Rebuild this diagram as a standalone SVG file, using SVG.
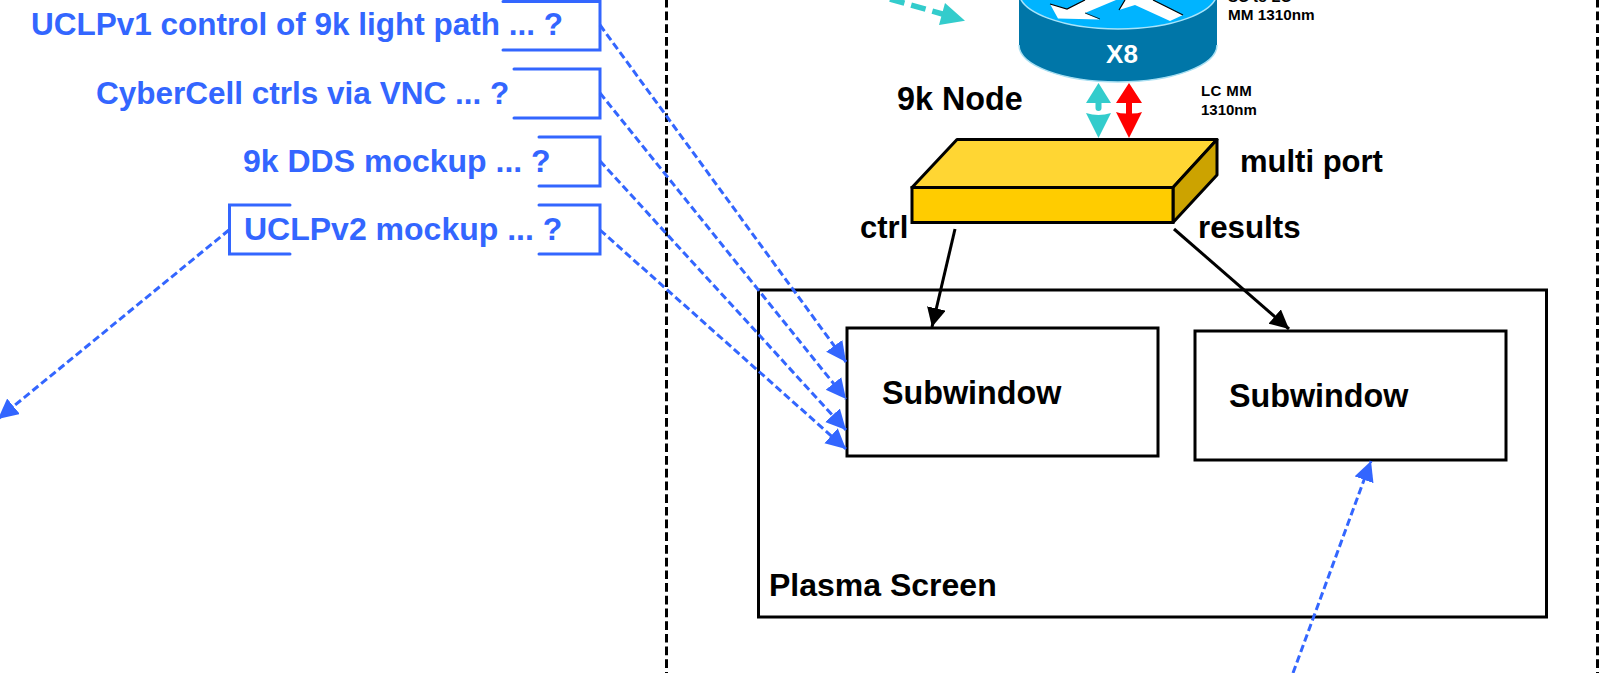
<svg xmlns="http://www.w3.org/2000/svg" width="1614" height="673" viewBox="0 0 1614 673">
<style>
text{font-family:"Liberation Sans",Arial,sans-serif;font-weight:700;fill:#000}
.b{fill:#3366ff;font-size:31.500px}
.l{font-size:32.300px}
.s{font-size:15px}
.box{fill:#fff;stroke:#000;stroke-width:3;stroke-linejoin:miter}
.br{fill:none;stroke:#3366ff;stroke-width:3;stroke-linecap:round}
.da{fill:none;stroke:#3366ff;stroke-width:3;stroke-dasharray:7.500 3.700;marker-end:url(#bh)}
.ar{fill:none;stroke:#000;stroke-width:3;marker-end:url(#kh)}
.sep{fill:none;stroke:#000;stroke-width:3;stroke-dasharray:8.700 4;stroke-dashoffset:1.100}
</style>
<defs>
<marker id="bh" markerUnits="userSpaceOnUse" markerWidth="22" markerHeight="22" refX="20" refY="10" orient="auto"><path d="M0 0L20 10L0 20Z" fill="#3366ff"/></marker>
<marker id="kh" markerUnits="userSpaceOnUse" markerWidth="22" markerHeight="22" refX="19" refY="9.500" orient="auto"><path d="M0 0L19 9.500L0 19Z" fill="#000"/></marker>
</defs>
<g id="separators">
<path class="sep" d="M666.500 0V673"/>
<path class="sep" d="M1597.500 0V673"/>
</g>
<g id="plasma-screen">
<rect class="box" x="758.500" y="290" width="788" height="327"/>
<text x="769" y="596" style="font-size:32px">Plasma Screen</text>
</g>
<g id="subwindow-1">
<rect class="box" x="847" y="328" width="311" height="128"/>
<text class="l" x="882" y="404">Subwindow</text>
</g>
<g id="subwindow-2">
<rect class="box" x="1195" y="331" width="311" height="129"/>
<text class="l" x="1229" y="407">Subwindow</text>
</g>
<g id="router">
<path d="M1019 -8V45A99 37 0 0 0 1217 45V-8Z" fill="#0076a8"/>
<path d="M1019 45A99 37 0 0 0 1217 45" fill="none" stroke="#a8dff2" stroke-width="1.500"/>
<ellipse cx="1118" cy="-8" rx="99" ry="37" fill="#00b4ff" stroke="#a8e4fa" stroke-width="1.500"/>
<path d="M1050 4L1058 18.500L1100 19.500L1085 13L1116 0L1085 0L1067 9Z" fill="#fff"/>
<path d="M1050 4L1067 9L1085 0" fill="none" stroke="#000" stroke-width="1.200"/>
<path d="M1085 13L1100 19" fill="none" stroke="#000" stroke-width="0.800"/>
<path d="M1119 10L1135 5L1170 21L1183 15L1153 0L1125 0Z" fill="#fff"/>
<path d="M1119 10L1125 0M1153 0L1183 15" fill="none" stroke="#000" stroke-width="1.200"/>
<text x="1122" y="63" text-anchor="middle" style="font-size:26px;fill:#fff">X8</text>
</g>
<g id="router-links">
<path d="M1098.500 83L1111 103H1101.500V108Q1101.500 111 1098.500 111Q1095.500 111 1095.500 108V103H1086Z" fill="#33cccc"/>
<path d="M1086 113Q1098.500 117 1111 113L1098.500 138Z" fill="#33cccc"/>
<path d="M1129 83L1142 103H1132V113.500Q1138 113.500 1142 112L1129 138L1116 112Q1120 113.500 1126 113.500V103H1116Z" fill="#ff0000"/>
</g>
<g id="multi-port">
<path d="M912 187.500L957 139.500H1217L1173 187.500Z" fill="#ffd633" stroke="#000" stroke-width="3" stroke-linejoin="round"/>
<path d="M1173 187.500L1217 139.500V175L1173 222.500Z" fill="#cca300" stroke="#000" stroke-width="3" stroke-linejoin="round"/>
<rect x="912" y="187.500" width="261" height="35" fill="#ffcc00" stroke="#000" stroke-width="3"/>
</g>
<g id="labels">
<text class="l" x="897" y="110">9k Node</text>
<text class="s" x="1201" y="96" style="letter-spacing:.4px">LC MM</text>
<text class="s" x="1201" y="115">1310nm</text>
<text class="s" x="1228" y="2">SC to LC</text>
<text x="1228" y="20" style="font-size:15.300px">MM 1310nm</text>
<text x="1240" y="172" style="font-size:31px">multi port</text>
<text x="860" y="238" style="font-size:31px">ctrl</text>
<text x="1198" y="238" style="font-size:31.300px">results</text>
</g>
<g id="uclpv1"><path class="br" d="M503 1.500H600V50H503"/><text class="b" x="31" y="35">UCLPv1 control of 9k light path ... ?</text></g>
<g id="cybercell"><path class="br" d="M514 69H600V118H514"/><text class="b" x="96" y="104">CyberCell ctrls via VNC ... ?</text></g>
<g id="dds"><path class="br" d="M539 137H600V186H539"/><text class="b" x="243" y="172" style="font-size:32px">9k DDS mockup ... ?</text></g>
<g id="uclpv2"><path class="br" d="M539 205H600V254H539M290 205H229.500V254H290"/><text class="b" x="244" y="240" style="font-size:32px">UCLPv2 mockup ... ?</text></g>
<g id="connectors">
<path class="da" d="M600 25L846 362"/>
<path class="da" d="M600 93L846 399"/>
<path class="da" d="M600 161L846 430"/>
<path class="da" d="M600 230L846 449"/>
<path class="da" d="M229 230L-2 419"/>
<path class="da" d="M1293 673L1371 461"/>
<path class="ar" d="M955 229L932 327"/>
<path class="ar" d="M1174 229L1289 329"/>
<path d="M890 -1L946 15" fill="none" stroke="#33cccc" stroke-width="5.500" stroke-dasharray="15 7"/>
<path d="M945 3L965 20.700L939 25Z" fill="#33cccc"/>
</g>
</svg>
